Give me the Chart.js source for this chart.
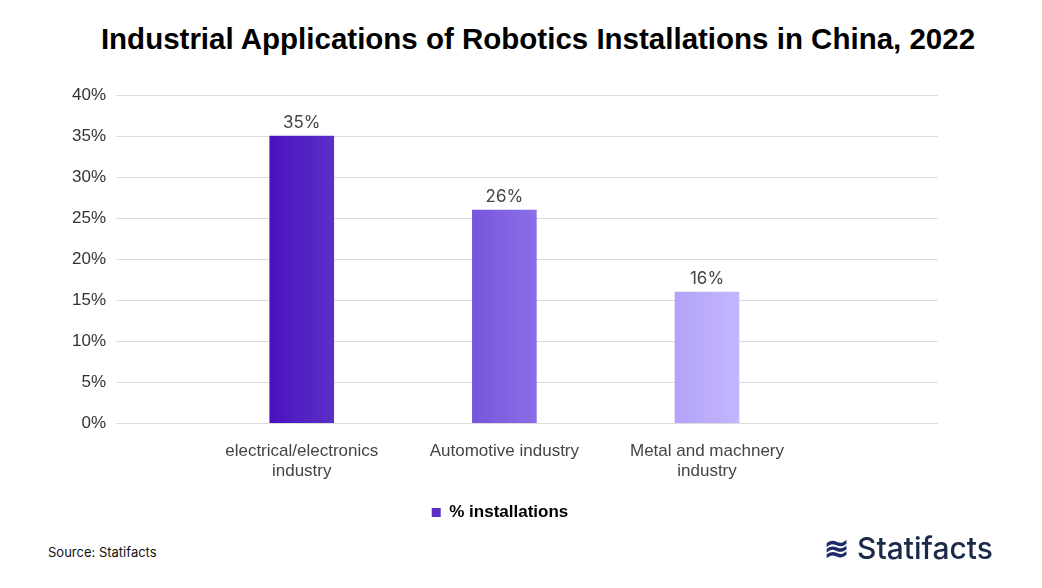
<!DOCTYPE html>
<html><head><meta charset="utf-8">
<script src="https://cdn.jsdelivr.net/npm/chart.js@4"></script>
<style>
body{margin:0;background:#fff;font-family:Inter,"Noto Sans",sans-serif;}
#wrap{position:relative;width:1042px;height:588px;}
#title{position:absolute;left:0;width:1076px;top:22px;text-align:center;font:bold 29.5px "Liberation Sans",Arial,sans-serif;color:#000;}
#c{position:absolute;left:0;top:75px;}
#src{position:absolute;left:48px;top:544px;font-size:13px;color:#111;}
#logo{position:absolute;left:824px;top:530px;font-size:30px;color:#1c2a4a;font-weight:500;}
</style></head><body>
<div id="wrap"><div id="title">Industrial Applications of Robotics Installations in China, 2022</div>
<canvas id="c" width="1042" height="456"></canvas>
<div id="src">Source: Statifacts</div>
<div id="logo"><span style="font-weight:800;color:#1c2a6a">≋</span> Statifacts</div></div>
<script>
const categories=[["electrical/electronics","industry"],["Automotive industry"],["Metal and machnery","industry"]];
const values=[35,26,16];
const seriesName="% installations";
const colorsA=["#4a12bf","#7656dc","#b3a2f8"];
const colorsB=["#5a30c6","#8b6fe6","#c4b6fd"];
const c=document.getElementById('c');
new Chart(c,{type:'bar',
data:{datasets:[{label:seriesName,data:values.map((v,i)=>({x:i,y:v})),
 barThickness:64,
 backgroundColor:(ctx)=>{const ch=ctx.chart;if(!ch.chartArea||ctx.dataIndex==null)return '#5a2fc8';
  const x=ch.scales.x.getPixelForValue(ctx.dataIndex);const g=ch.ctx.createLinearGradient(x-32,0,x+32,0);
  g.addColorStop(0,colorsA[ctx.dataIndex]);g.addColorStop(1,colorsB[ctx.dataIndex]);return g;}}]},
options:{responsive:false,animation:false,
 layout:{padding:{left:62,right:104,top:19,bottom:0}},
 plugins:{
  legend:{position:'bottom',labels:{boxWidth:9,boxHeight:9,font:{size:17,weight:'bold'},color:'#333',padding:12,
   generateLabels:()=>[{text:seriesName,fillStyle:'#5a30c6',strokeStyle:'#5a30c6',lineWidth:0}]}},
  tooltip:{enabled:false}},
 scales:{x:{type:'linear',offset:false,min:-0.877,max:3.14,grid:{display:false},border:{display:false},
   afterBuildTicks:(s)=>{s.ticks=[0,1,2].map(v=>({value:v}));},
   ticks:{callback:(v)=>categories[v],font:{size:17},color:'#444',padding:10,maxRotation:0,autoSkip:false}},
  y:{min:0,max:40,ticks:{stepSize:5,callback:v=>v+'%',font:{size:17},color:'#333',padding:10},
   grid:{color:'#dcdcdc'},border:{display:false}}}},
plugins:[{id:'lbl',afterDatasetsDraw(ch){const x=ch.ctx;const m=ch.getDatasetMeta(0);x.save();x.font='17px Inter';x.fillStyle='#444';x.textAlign='center';
 m.data.forEach((b,i)=>x.fillText(values[i]+'%',b.x,b.y-13));x.restore();}}]
});
</script></body></html>
